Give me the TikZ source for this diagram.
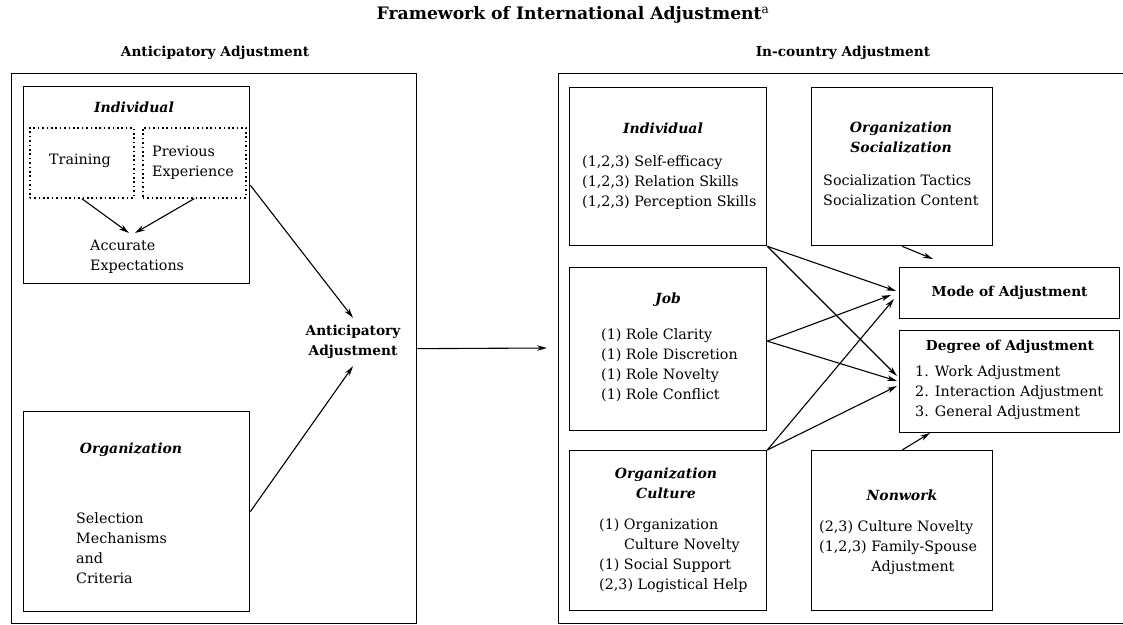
\documentclass[tikz,border=0pt]{standalone}
\usepackage{fontspec}
\setmainfont{DejaVu Serif}
\usetikzlibrary{arrows.meta}
\begin{document}
\begin{tikzpicture}[x=1pt,y=-1pt,
  box/.style={draw, line width=1.3pt, inner sep=0pt, anchor=north west},
  dotbox/.style={draw, line width=1.6pt, dash pattern=on 1.6pt off 2.8pt, inner sep=0pt, anchor=north west},
  txt/.style={font=\fontsize{14.3}{20}\selectfont, inner sep=0pt, align=left},
  ttl/.style={font=\fontsize{14}{20}\selectfont\bfseries\itshape, inner sep=0pt, align=center},
  hdr/.style={font=\fontsize{13.7}{20}\selectfont\bfseries, inner sep=0pt, align=center},
  arr/.style={-{Stealth[length=10pt,width=5.5pt]}, line width=1.1pt},
]
\useasboundingbox (0,0) rectangle (1123,624);
\clip (0,0) rectangle (1123,624);

% outer frames
\node[box, minimum width=405pt, minimum height=550pt] (leftouter) at (11,73) {};
\node[box, minimum width=580pt, minimum height=550pt] (rightouter) at (558,73) {};

% left side boxes
\node[box, minimum width=226pt, minimum height=197pt] (lind) at (23,86) {};
\node[dotbox, minimum width=104pt, minimum height=70pt] (train) at (29,127) {};
\node[dotbox, minimum width=103pt, minimum height=70pt] (prev) at (142,127) {};
\node[box, minimum width=226pt, minimum height=200pt] (lorg) at (23,411) {};

% right side boxes
\node[box, minimum width=197pt, minimum height=158pt] (rind) at (569,87) {};
\node[box, minimum width=181pt, minimum height=158pt] (osoc) at (811,87) {};
\node[box, minimum width=220pt, minimum height=51pt, font=\fontsize{13.7}{20}\selectfont\bfseries] (mode) at (899,267) {Mode of Adjustment};
\node[box, minimum width=220pt, minimum height=102pt] (degree) at (899,330) {};
\node[box, minimum width=197pt, minimum height=163pt] (job) at (569,267) {};
\node[box, minimum width=197pt, minimum height=160pt] (ocult) at (569,450) {};
\node[box, minimum width=181pt, minimum height=160pt] (nonwork) at (811,450) {};

% titles
\node[font=\fontsize{17.2}{20}\selectfont\bfseries, inner sep=0pt] (title) at (573,15) {Framework of International Adjustment\textsuperscript{\mdseries a}};
\node[hdr] (hA) at (215,53) {Anticipatory Adjustment};
\node[hdr] (hB) at (843,53) {In-country Adjustment};

% left texts
\node[ttl] (tLind) at (134,107) {Individual};
\node[txt] (tTrain) at (80,161) {Training};
\node[txt, anchor=west] (tPrev) at (152,163) {Previous\\Experience};
\node[txt, anchor=west] (acc) at (90,257) {Accurate\\Expectations};
\node[hdr, minimum height=48pt] (aa) at (353,342) {Anticipatory\\Adjustment};
\node[ttl] (tLorg) at (131,450) {Organization};
\node[txt, anchor=west] (tSel) at (76,548) {Selection\\Mechanisms\\and\\Criteria};

% right texts
\node[ttl] (tRind) at (663,128) {Individual};
\node[txt, anchor=west] (tRindI) at (582,183) {(1,2,3) Self-efficacy\\(1,2,3) Relation Skills\\(1,2,3) Perception Skills};
\node[ttl] (tOsoc) at (901,137) {Organization\\Socialization};
\node[txt, anchor=west] (tOsocI) at (823,190) {Socialization Tactics\\Socialization Content};
\node[hdr] (tDeg) at (1010,347) {Degree of Adjustment};
\node[txt, anchor=west] (tDegI) at (915,393) {1. Work Adjustment\\2. Interaction Adjustment\\3. General Adjustment};
\node[ttl] (tJob) at (668,300) {Job};
\node[txt, anchor=west] (tJobI) at (601,365) {(1) Role Clarity\\(1) Role Discretion\\(1) Role Novelty\\(1) Role Conflict};
\node[ttl] (tOcult) at (666,483) {Organization\\Culture};
\node[txt, anchor=west] (tOcultI) at (599,555.5) {(1) Organization\\\phantom{(1) }Culture Novelty\\(1) Social Support\\(2,3) Logistical Help};
\node[ttl] (tNon) at (902,495) {Nonwork};
\node[txt, anchor=west] (tNonI) at (819,548) {(2,3) Culture Novelty\\(1,2,3) Family-Spouse\\\phantom{(1,2,3) }Adjustment};

% arrow end points
\coordinate (accL) at (129,233);
\coordinate (accR) at (135,233);
\coordinate (inEnd) at (547,348);
\coordinate (sEnd) at (933,259);
\coordinate (nEnd) at (930,433);
\coordinate (mA) at (896,291);
\coordinate (mB) at (891,295);
\coordinate (mC) at (894,299);
\coordinate (dA) at (897,376);
\coordinate (dB) at (897,381);
\coordinate (dC) at (897,386);

% left connectors
\draw[arr] (train.south) -- (accL);
\draw[arr] (prev.south) -- (accR);
\draw[arr] (lind.east) -- (aa.north);
\draw[arr] (lorg.east) -- (aa.south);
\draw[arr] (leftouter.east) -- (inEnd);

% right connectors
\draw[arr] (osoc.south) -- (sEnd);
\draw[arr] (nonwork.north) -- (nEnd);
\draw[arr] (rind.south east) -- (mA);
\draw[arr] (rind.south east) -- (dA);
\draw[arr] ([yshift=8pt]job.east) -- (mB);
\draw[arr] ([yshift=8pt]job.east) -- (dB);
\draw[arr] (ocult.north east) -- (mC);
\draw[arr] (ocult.north east) -- (dC);
\end{tikzpicture}
\end{document}
